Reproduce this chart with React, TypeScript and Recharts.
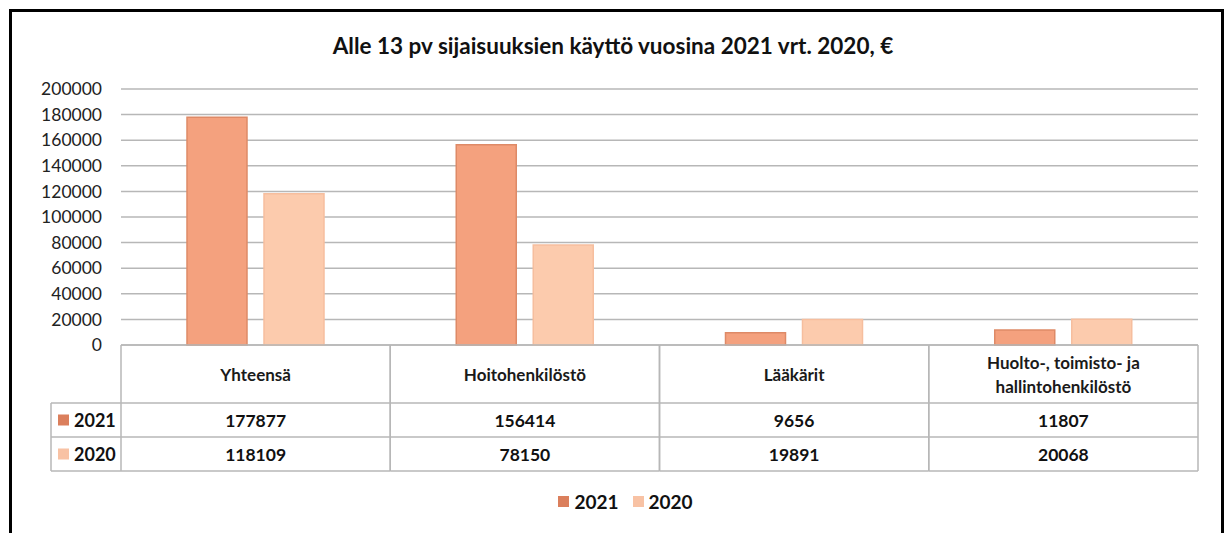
import React from "react";
import { Bar, BarChart, CartesianGrid, Legend, XAxis, YAxis } from "recharts";

const categories = ["Yhteensä", "Hoitohenkilöstö", "Lääkärit", "Huolto-, toimisto- ja hallintohenkilöstö"];
// how each category label is broken into lines in the table header
const categoryLines = [["Yhteensä"], ["Hoitohenkilöstö"], ["Lääkärit"], ["Huolto-, toimisto- ja", "hallintohenkilöstö"]];
const values2021 = [177877, 156414, 9656, 11807];
const values2020 = [118109, 78150, 19891, 20068];
const yTicks = [0, 20000, 40000, 60000, 80000, 100000, 120000, 140000, 160000, 180000, 200000];

const title = "Alle 13 pv sijaisuuksien käyttö vuosina 2021 vrt. 2020, €";
const FONT = "Lato, 'Open Sans', sans-serif";

const W = 1226;
const H = 533;
const PLOT_LEFT = 121;
const PLOT_RIGHT = 1198;
const Y_AXIS_W = 110;
const BAND = (PLOT_RIGHT - PLOT_LEFT) / categories.length;

const C2021 = { fill: "#F4A17E", stroke: "#DE8A67", key: "#DB7F5C" };
const C2020 = { fill: "#FCCBAD", stroke: "#F6BE9E", key: "#F8C2A4" };
const GRID = "#B7B7B7";

const data = categories.map((c, i) => ({
  name: c,
  y2021: values2021[i],
  y2020: values2020[i],
}));

// Header row height, then the two value rows
const HEAD_H = 58;
const ROW_H = 34;

const TableTick = (props: any) => {
  const { x, y, index } = props;
  const left = x - BAND / 2;
  const right = x + BAND / 2;
  const top = y;
  const r1 = top + HEAD_H;
  const r2 = r1 + ROW_H;
  const r3 = r2 + ROW_H;
  const lines = categoryLines[index];
  const lineStyle = { stroke: GRID, strokeWidth: 1.5 };
  return (
    <g fontFamily={FONT} fontWeight={700} fill="#111">
      <line x1={left} x2={left} y1={top} y2={r3} {...lineStyle} />
      <line x1={right} x2={right} y1={top} y2={r3} {...lineStyle} />
      <line x1={left} x2={right} y1={top} y2={top} {...lineStyle} />
      <line x1={left} x2={right} y1={r1} y2={r1} {...lineStyle} />
      <line x1={left} x2={right} y1={r2} y2={r2} {...lineStyle} />
      <line x1={left} x2={right} y1={r3} y2={r3} {...lineStyle} />
      {lines.map((l, k) => (
        <text
          key={k}
          x={x}
          y={top + HEAD_H / 2 + (k - (lines.length - 1) / 2) * 24}
          textAnchor="middle"
          dominantBaseline="central"
          fontSize={17}
          fill="#1a1a1a"
        >
          {l}
        </text>
      ))}
      <text x={x} y={r1 + ROW_H / 2} textAnchor="middle" dominantBaseline="central" fontSize={17.5}>
        {values2021[index]}
      </text>
      <text x={x} y={r2 + ROW_H / 2} textAnchor="middle" dominantBaseline="central" fontSize={17.5}>
        {values2020[index]}
      </text>
      {index === 0 && (
        <g>
          <line x1={51} x2={left} y1={r1} y2={r1} {...lineStyle} />
          <line x1={51} x2={left} y1={r2} y2={r2} {...lineStyle} />
          <line x1={51} x2={left} y1={r3} y2={r3} {...lineStyle} />
          <line x1={51} x2={51} y1={r1} y2={r3} {...lineStyle} />
          <rect x={58} y={r1 + ROW_H / 2 - 5.5} width={11} height={11} fill={C2021.key} />
          <text x={74} y={r1 + ROW_H / 2} dominantBaseline="central" fontSize={18}>
            2021
          </text>
          <rect x={58} y={r2 + ROW_H / 2 - 5.5} width={11} height={11} fill={C2020.key} />
          <text x={74} y={r2 + ROW_H / 2} dominantBaseline="central" fontSize={18}>
            2020
          </text>
        </g>
      )}
    </g>
  );
};

const LegendBox = () => (
  <div
    style={{
      height: 24,
      display: "flex",
      justifyContent: "center",
      alignItems: "center",
      paddingLeft: 42,
      fontFamily: FONT,
      fontWeight: 700,
      fontSize: 19,
      color: "#111",
    }}
  >
    <span style={{ width: 11, height: 11, background: C2021.key, marginRight: 5 }} />
    <span style={{ marginRight: 14 }}>2021</span>
    <span style={{ width: 11, height: 11, background: C2020.key, marginRight: 5 }} />
    <span>2020</span>
  </div>
);

const App = () => {
  return (
    <div style={{ position: "absolute", left: 0, top: 0, width: W, height: H, overflow: "hidden", background: "#fff" }}>
      <div
        style={{
          position: "absolute",
          left: 9,
          top: 9,
          width: 1209,
          height: 560,
          border: "3px solid #000",
        }}
      />
      <div
        style={{
          position: "absolute",
          left: 0,
          top: 32,
          width: W,
          textAlign: "center",
          fontFamily: FONT,
          fontWeight: 700,
          fontSize: 22.5,
          color: "#111",
        }}
      >
        {title}
      </div>
      <div style={{ position: "absolute", left: 0, top: 0 }}>
        <BarChart
          width={W}
          height={H}
          data={data}
          margin={{ top: 89, right: W - PLOT_RIGHT, bottom: 20, left: PLOT_LEFT - Y_AXIS_W }}
          barSize={60}
          barGap={17}
        >
          <CartesianGrid vertical={false} stroke={GRID} strokeWidth={1.5} />
          <XAxis
            dataKey="name"
            height={144}
            axisLine={false}
            tickLine={false}
            tickSize={0}
            tickMargin={0}
            interval={0}
            tick={<TableTick />}
          />
          <YAxis
            width={Y_AXIS_W}
            domain={[0, 200000]}
            ticks={yTicks}
            interval={0}
            axisLine={false}
            tickLine={false}
            tickSize={0}
            tickMargin={19}
            tick={{ fontFamily: FONT, fontSize: 17.5, fill: "#222" }}
          />
          <Legend verticalAlign="bottom" height={24} content={<LegendBox />} />
          <Bar dataKey="y2021" name="2021" fill={C2021.fill} stroke={C2021.stroke} strokeWidth={1.5} isAnimationActive={false} />
          <Bar dataKey="y2020" name="2020" fill={C2020.fill} stroke={C2020.stroke} strokeWidth={1.5} isAnimationActive={false} />
        </BarChart>
      </div>
    </div>
  );
};

export default App;
